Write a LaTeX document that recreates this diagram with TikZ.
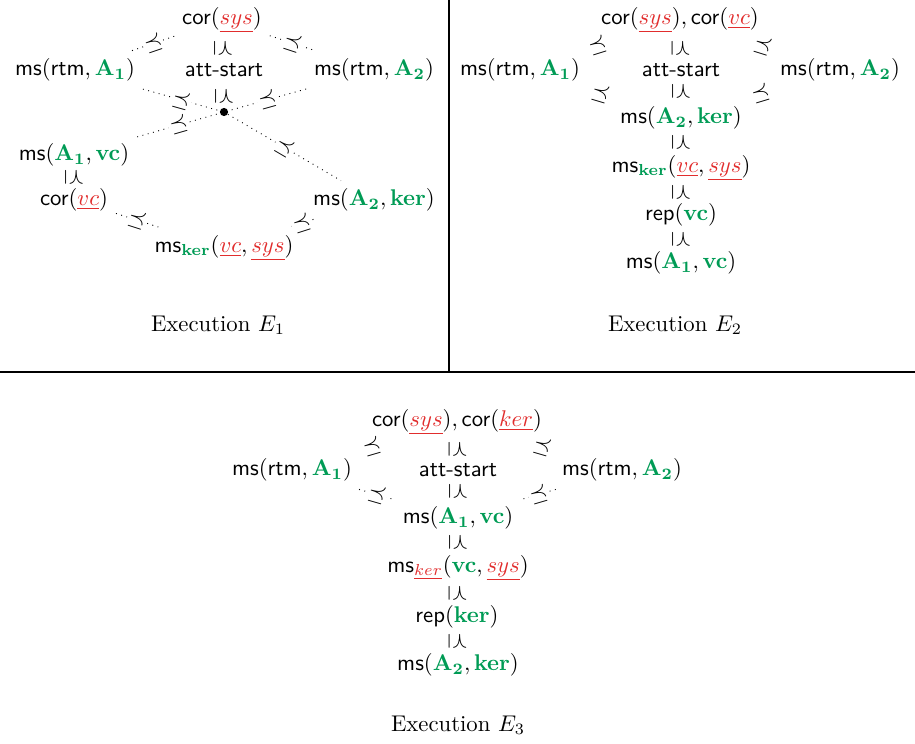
\documentclass[tikz,border=0pt]{standalone}
\usepackage{xcolor}
\definecolor{cgreen}{RGB}{0,155,85}
\definecolor{cred}{RGB}{225,45,45}
\newcommand{\sfm}[1]{\textsf{#1}}
\newcommand{\gb}[1]{\textcolor{cgreen}{\mathbf{#1}}}
\newcommand{\ru}[1]{\textcolor{cred}{\underline{#1}}}
\begin{document}
\begin{tikzpicture}[x=0.44pt,y=-0.44pt,
  rel/.style={dotted, line width=0.4pt},
  dsym/.style={sloped, fill=white, inner sep=0.6pt},
  vsym/.style={rotate=-90, inner sep=0pt},
  dotnode/.style={circle, fill=black, inner sep=0pt, minimum size=3.6pt}]
\useasboundingbox (0,0) rectangle (915,744);
\draw[line width=0.5pt] (449,0) -- (449,372);
\draw[line width=0.5pt] (0,372) -- (915,372);
% ---------- E1
\node (a1) at (222,20) {$\sfm{cor}(\ru{sys})$};
\node (a2) at (224,70) {\sfm{att-start}};
\node (a3) at (75,70) {$\sfm{ms}(\sfm{rtm}, \gb{A_1})$};
\node (a4) at (374,70) {$\sfm{ms}(\sfm{rtm}, \gb{A_2})$};
\node[dotnode] (a5) at (224,112) {};
\node (a6) at (74,155) {$\sfm{ms}(\gb{A_1}, \gb{vc})$};
\node (a7) at (74,200) {$\sfm{cor}(\ru{vc})$};
\node (a8) at (374,200) {$\sfm{ms}(\gb{A_2}, \gb{ker})$};
\node (a9) at (224,248) {$\sfm{ms}_{\gb{ker}}(\ru{vc}, \ru{sys})$};
\node (a10) at (218,325) {Execution $E_1$};
\draw[rel] (a3) -- node[dsym]{$\preceq$} (a1);
\draw[rel] (a1) -- node[dsym]{$\preceq$} (a4);
\path (a1) -- node[vsym]{$\preceq$} (a2);
\path (a2) -- node[vsym]{$\preceq$} (a5);
\draw[rel] (a3) -- node[dsym]{$\preceq$} (a5);
\draw[rel] (a4) -- node[dsym]{$\preceq$} (a5);
\draw[rel] (a6) -- node[dsym]{$\preceq$} (a5);
\draw[rel] (a5) -- node[dsym]{$\preceq$} (a8);
\path (a6) -- node[vsym]{$\preceq$} (a7);
\draw[rel] (a7) -- node[dsym]{$\preceq$} (a9);
\draw[rel] (a8) -- node[dsym]{$\preceq$} (a9);
% ---------- E2
\node (b1) at (680,20) {$\sfm{cor}(\ru{sys}), \sfm{cor}(\ru{vc})$};
\node (b2) at (681,70) {\sfm{att-start}};
\node (b3) at (520,70) {$\sfm{ms}(\sfm{rtm}, \gb{A_1})$};
\node (b4) at (840,70) {$\sfm{ms}(\sfm{rtm}, \gb{A_2})$};
\node (b5) at (681,118) {$\sfm{ms}(\gb{A_2}, \gb{ker})$};
\node (b6) at (681,168) {$\sfm{ms}_{\gb{ker}}(\ru{vc}, \ru{sys})$};
\node (b7) at (681,215) {$\sfm{rep}(\gb{vc})$};
\node (b8) at (681,263) {$\sfm{ms}(\gb{A_1}, \gb{vc})$};
\node (b9) at (675,325) {Execution $E_2$};
\path (b3) -- node[dsym]{$\preceq$} (b1);
\path (b1) -- node[dsym]{$\preceq$} (b4);
\path (b3) -- node[dsym]{$\preceq$} (b5);
\path (b4) -- node[dsym]{$\preceq$} (b5);
\path (b1) -- node[vsym]{$\preceq$} (b2);
\path (b2) -- node[vsym]{$\preceq$} (b5);
\path (b5) -- node[vsym]{$\preceq$} (b6);
\path (b6) -- node[vsym]{$\preceq$} (b7);
\path (b7) -- node[vsym]{$\preceq$} (b8);
% ---------- E3
\node (c1) at (457,422) {$\sfm{cor}(\ru{sys}), \sfm{cor}(\ru{ker})$};
\node (c2) at (458,470) {\sfm{att-start}};
\node (c3) at (292,470) {$\sfm{ms}(\sfm{rtm}, \gb{A_1})$};
\node (c4) at (622,470) {$\sfm{ms}(\sfm{rtm}, \gb{A_2})$};
\node (c5) at (458,518) {$\sfm{ms}(\gb{A_1}, \gb{vc})$};
\node (c6) at (458,568) {$\sfm{ms}_{\ru{ker}}(\gb{vc}, \ru{sys})$};
\node (c7) at (457,617) {$\sfm{rep}(\gb{ker})$};
\node (c8) at (458,665) {$\sfm{ms}(\gb{A_2}, \gb{ker})$};
\node (c9) at (458,725) {Execution $E_3$};
\path (c3) -- node[dsym]{$\preceq$} (c1);
\path (c1) -- node[dsym]{$\preceq$} (c4);
\draw[rel] (c3) -- node[dsym]{$\preceq$} (c5);
\draw[rel] (c4) -- node[dsym]{$\preceq$} (c5);
\path (c1) -- node[vsym]{$\preceq$} (c2);
\path (c2) -- node[vsym]{$\preceq$} (c5);
\path (c5) -- node[vsym]{$\preceq$} (c6);
\path (c6) -- node[vsym]{$\preceq$} (c7);
\path (c7) -- node[vsym]{$\preceq$} (c8);
\end{tikzpicture}
\end{document}
